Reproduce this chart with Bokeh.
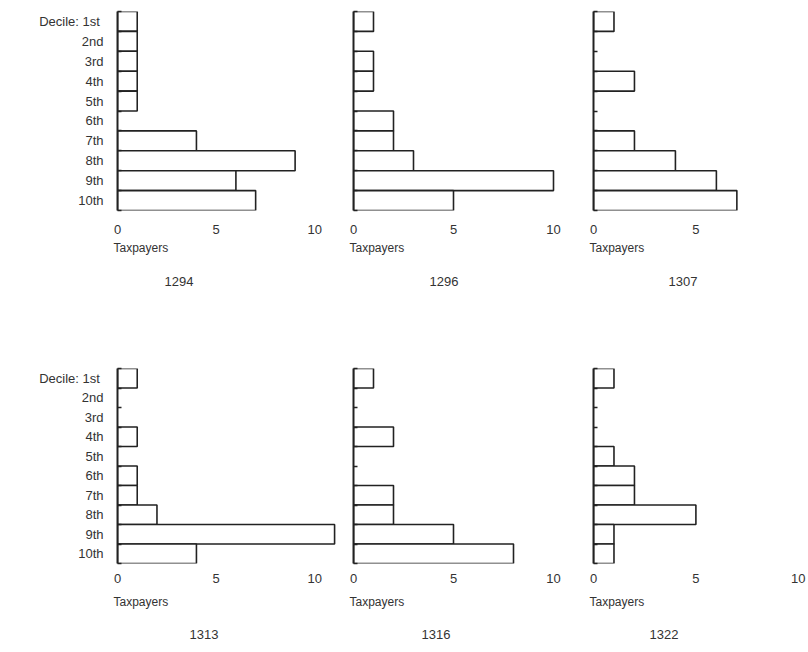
from bokeh.plotting import figure
from bokeh.layouts import column, row
from bokeh.models import Range1d, FixedTicker, ColumnDataSource, Title
from bokeh.embed import file_html
from bokeh.resources import INLINE

# ---- data ----
deciles = ["1st", "2nd", "3rd", "4th", "5th", "6th", "7th", "8th", "9th", "10th"]
years = ["1294", "1296", "1307", "1313", "1316", "1322"]
t1294 = [1, 1, 1, 1, 1, 0, 4, 9, 6, 7]
t1296 = [1, 0, 1, 1, 0, 2, 2, 3, 10, 5]
t1307 = [1, 0, 0, 2, 0, 0, 2, 4, 6, 7]
t1313 = [1, 0, 0, 1, 0, 1, 1, 2, 11, 4]
t1316 = [1, 0, 0, 2, 0, 0, 2, 2, 5, 8]
t1322 = [1, 0, 0, 0, 1, 2, 2, 5, 1, 1]
x_ticks = {"1294": [0, 5, 10], "1296": [0, 5, 10], "1307": [0, 5],
           "1313": [0, 5, 10], "1316": [0, 5, 10], "1322": [0, 5, 10]}
axis_label = "Taxpayers"
decile_prefix = "Decile:  "

counts = [t1294, t1296, t1307, t1313, t1316, t1322]

# ---- style / geometry ----
FONT = "Liberation Sans"
TXT = "#333333"
INK = "#222222"
# per column: figure width, left border, x range end
COLS = [(340, 117, 11.3), (229, 13, 10.8), (237, 24, 10.4)]
# per row: height, top border, bottom border, tick standoff, axis-label standoff, year standoff
ROWS = [(306, 11, 96, 14, 5, 34), (346, 62, 89, 10, 14, 24)]
TITLE_OFF = [47, 76, 75, 72, 68, 56]


def panel(i):
    r, c = divmod(i, 3)
    w, mbl, xend = COLS[c]
    h, mbt, mbb, tstand, lstand, ystand = ROWS[r]
    year = years[i]
    vals = counts[i]
    ys = [k + 1 for k, v in enumerate(vals) if v > 0]
    xs = [v for v in vals if v > 0]
    src = ColumnDataSource(dict(y=ys, right=xs))

    p = figure(width=w, height=h, output_backend="svg", toolbar_location=None,
               x_range=Range1d(0, xend), y_range=Range1d(10.5, 0.5),
               title=None,
               min_border_left=mbl, min_border_right=0,
               min_border_top=mbt, min_border_bottom=mbb)
    p.hbar(y="y", right="right", left=0, height=1, source=src,
           fill_color="white", line_color=INK, line_width=1.6)

    p.xgrid.visible = False
    p.ygrid.visible = False
    p.outline_line_color = None
    p.background_fill_color = None
    p.border_fill_color = None

    xa = p.xaxis[0]
    xa.ticker = FixedTicker(ticks=x_ticks[year])
    xa.axis_line_color = None
    xa.major_tick_line_color = None
    xa.minor_tick_line_color = None
    xa.major_tick_out = 0
    xa.major_tick_in = 0
    xa.minor_tick_out = 0
    xa.major_label_standoff = tstand
    xa.major_label_text_font = FONT
    xa.major_label_text_font_size = "13px"
    xa.major_label_text_color = TXT

    ya = p.yaxis[0]
    boundaries = [k + 0.5 for k in range(0, 11)]
    ya.axis_line_color = INK
    ya.axis_line_width = 2
    ya.major_tick_line_color = None
    ya.major_tick_in = 0
    ya.major_tick_out = 0
    ya.minor_tick_line_color = INK
    ya.minor_tick_line_width = 1.5
    ya.minor_tick_in = 4
    ya.minor_tick_out = 0
    ya.major_label_text_font = FONT
    ya.major_label_text_font_size = "13px"
    ya.major_label_text_color = TXT
    if c == 0:
        ya.ticker = FixedTicker(ticks=list(range(1, 11)), minor_ticks=boundaries)
        ya.major_label_overrides = {k + 1: (decile_prefix + d if k == 0 else d)
                                    for k, d in enumerate(deciles)}
        ya.major_label_standoff = 14
    else:
        ya.ticker = FixedTicker(ticks=[], minor_ticks=boundaries)
        ya.major_label_standoff = 0

    t_axis = Title(text=axis_label, align="left", offset=-4, standoff=lstand,
                   text_font=FONT, text_font_size="12px", text_font_style="normal",
                   text_color=TXT)
    p.add_layout(t_axis, "below")
    t_year = Title(text=year, align="left", offset=TITLE_OFF[i], standoff=ystand,
                   text_font=FONT, text_font_size="13px", text_font_style="normal",
                   text_color=TXT)
    p.add_layout(t_year, "below")
    return p


figs = [panel(i) for i in range(6)]
layout = column(row(*figs[:3], spacing=0), row(*figs[3:], spacing=0), spacing=0)

open("out.html", "w").write(file_html(layout, INLINE))
